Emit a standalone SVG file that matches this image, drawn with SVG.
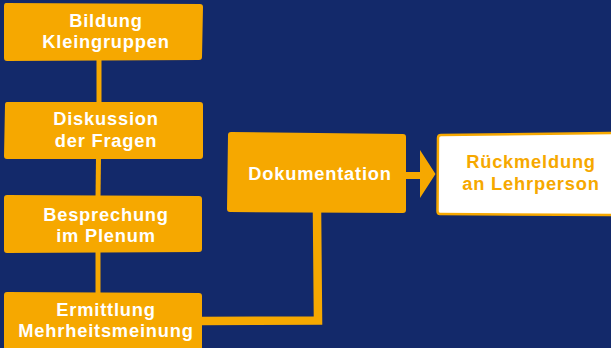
<svg xmlns="http://www.w3.org/2000/svg" width="611" height="348" viewBox="0 0 611 348">
<style>
.box{fill:#f6a800;}
.wbox{fill:#ffffff;stroke:#f6a800;stroke-width:2.5;}
.t{font-family:"Liberation Sans",Arial,sans-serif;font-weight:bold;font-size:18.3px;letter-spacing:0.8px;fill:#ffffff;text-anchor:middle;}
.to{fill:#f6a800;}
.ln{fill:none;stroke:#f6a800;stroke-width:5;}
.lw{fill:none;stroke:#f6a800;stroke-width:8.5;}
</style>
<rect x="0" y="0" width="611" height="348" fill="#13296a"/>
<g id="connectors">
<line class="ln" x1="99" y1="58" x2="99" y2="104"/>
<line class="ln" x1="98.5" y1="157" x2="98" y2="197"/>
<line class="ln" x1="98" y1="250" x2="98" y2="294"/>
<path class="lw" d="M200 321 L318 320.5 L317 211"/>
<path fill="#f6a800" d="M404 172 L420 172 L420 150 L435.5 174 L420 198 L420 179 L404 179 Z"/>
</g>
<g id="n1"><path class="box" d="M6 3 L200 4 Q203 4 203 7 L202 57 Q202 60 199 60 L7 61 Q4 61 4 58 L4 6 Q4 3 6 3 Z"/>
<text class="t" x="106" y="27">Bildung</text><text class="t" x="106" y="48">Kleingruppen</text></g>
<g id="n2"><path class="box" d="M7 102 L200 102 Q203 102 203 105 L203 156 Q203 159 200 159 L7 159 Q4 159 4 156 L5 105 Q5 102 7 102 Z"/>
<text class="t" x="106" y="125">Diskussion</text><text class="t" x="106" y="147">der Fragen</text></g>
<g id="n3"><path class="box" d="M7 195 L199 196 Q202 196 202 199 L202 249 Q202 252 199 252 L7 253 Q4 253 4 250 L4 198 Q4 195 7 195 Z"/>
<text class="t" x="106" y="221">Besprechung</text><text class="t" x="106" y="242">im Plenum</text></g>
<g id="n4"><path class="box" d="M7 292 L199 293 Q202 293 202 296 L202 352 L4 352 L4 295 Q4 292 7 292 Z"/>
<text class="t" x="106" y="316">Ermittlung</text><text class="t" x="106" y="337">Mehrheitsmeinung</text></g>
<g id="n5"><path class="box" d="M231 132 L403 134 Q406 134 406 137 L406 210 Q406 213 403 213 L230 212 Q227 212 227 209 L228 135 Q228 132 231 132 Z"/>
<text class="t" x="320" y="180">Dokumentation</text></g>
<g id="n6"><path class="wbox" d="M441 135 L620 133 L620 215 L440 214 Q437.5 214 437.5 211 L438 138 Q438 135 441 135 Z"/>
<text class="t to" x="531" y="168">Rückmeldung</text><text class="t to" x="531" y="190">an Lehrperson</text></g>
</svg>
